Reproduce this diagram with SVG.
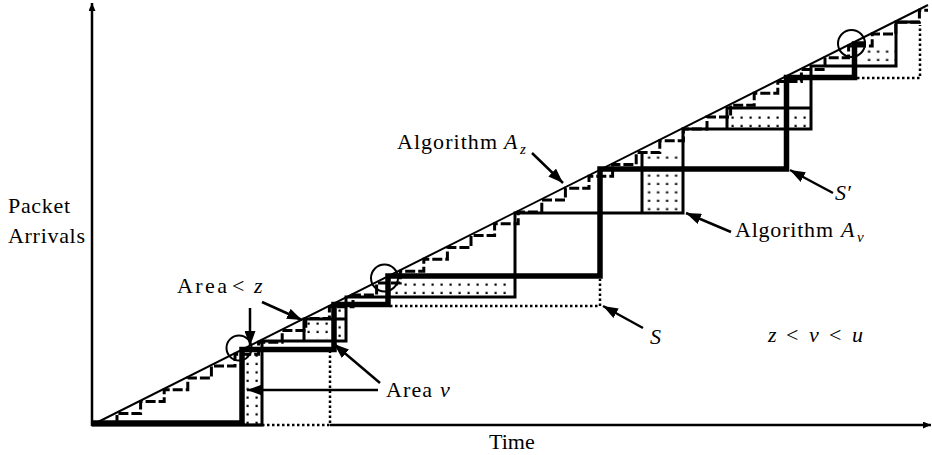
<svg xmlns="http://www.w3.org/2000/svg" width="932" height="455" viewBox="0 0 932 455">
<style>
.t{font-family:"Liberation Serif","DejaVu Serif",serif;font-size:22px;fill:#000}
.i{font-style:italic}
.sub{font-size:15px}
.ax{stroke:#000;stroke-width:2.5;fill:none}
.diag{stroke:#000;stroke-width:2;fill:none}
.az{stroke:#000;stroke-width:3;fill:none;stroke-dasharray:10 3}
.av{stroke:#000;stroke-width:3;fill:none}
.sp{stroke:#000;stroke-width:5.5;fill:none;stroke-linejoin:miter}
.dot{stroke:#000;stroke-width:2.5;fill:none;stroke-dasharray:2.5 2.5}
.cir{stroke:#000;stroke-width:2;fill:none}
.arr{stroke:#000;stroke-width:2.5;fill:none;marker-end:url(#ah)}
.dots{fill:url(#dots)}
</style>
<defs>
<marker id="ah" markerUnits="userSpaceOnUse" markerWidth="16" markerHeight="11" refX="15" refY="5.5" orient="auto"><path d="M0,0 L15,5.5 L0,11 z" fill="#000"/></marker>
<marker id="axh" markerUnits="userSpaceOnUse" markerWidth="8" markerHeight="7" refX="8" refY="3.5" orient="auto"><path d="M0,0 L8,3.5 L0,7 z" fill="#000"/></marker>
<pattern id="dots" patternUnits="userSpaceOnUse" width="9" height="8.4"><rect x="2.5" y="2.5" width="2.2" height="2.2" fill="#000"/></pattern>
</defs>

<g id="axes">
<path class="ax" d="M92,426 V3" marker-end="url(#axh)"/>
<path class="ax" d="M91,425 H262"/>
<path class="ax" d="M330,425 H931" marker-end="url(#axh)"/>
</g>

<g id="arrival-line">
<path class="diag" d="M92,425 L928,5"/>
</g>

<g id="areas">
<rect class="dots" transform="translate(244,352)" width="17" height="72"/>
<rect class="dots" transform="translate(305,320)" width="26" height="19"/>
<rect class="dots" transform="translate(336,307)" width="9" height="33"/>
<rect class="dots" transform="translate(393,281)" width="119" height="15"/>
<rect class="dots" transform="translate(645.5,172)" width="37" height="39"/>
<rect class="dots" transform="translate(645.5,154)" width="37" height="10"/>
<rect class="dots" transform="translate(729,114)" width="82" height="14"/>
<rect class="dots" transform="translate(865.5,48)" width="30" height="16"/>
</g>

<g id="algorithm-az">
<path class="az" d="M117,425 V413.4 H140.6 V401.6 H164.2 V389.7 H187.8 V377.9 H211.4 V366.0 H235.0 V354.2 H258.6 V342.3 H282.2 V330.4 H305.8 V318.6 H329.4 V306.7 H353.0 V294.9 H376.6 V283.0 H400.2 V271.2 H423.8 V259.3 H447.4 V247.4 H471.0 V235.6 H494.6 V223.7 H518.2 V211.9 H541.8 V200.0 H565.4 V188.2 H589.0 V176.3 H612.6 V164.4 H636.2 V152.6 H659.8 V140.7 H683.4 V128.9 H707.0 V117.0 H730.6 V105.2 H754.2 V93.3 H777.8 V81.5 H801.4 V69.6 H825.0 V57.7 H848.6 V45.9 H872.2 V34.0 H895.8 V22.2 H919.4 V10.3 H928"/>
</g>

<g id="algorithm-av">
<path class="av" d="M92,425 H262 V341 H346 V297 H515 V213 H683 V129 H811 V66 H896 V22 H920"/>
<path class="av" d="M304,341 V319 H346"/>
<path class="av" d="M642,213 V152"/>
<path class="av" d="M727,128 V108 H811"/>
</g>

<g id="schedule-s-prime">
<path class="sp" d="M92,423 H242 V349.5 H334 V304.5 H388 V276 H600 V169 H786.5 V77.5 H854.5 V44 H866"/>
</g>

<g id="schedule-s">
<path class="dot" d="M262,425 H330 V351"/>
<path class="dot" d="M390,306 H600 V279"/>
<path class="dot" d="M857,78 H920 V25"/>
</g>

<g id="touch-points">
<circle class="cir" cx="239" cy="348" r="12.5"/>
<circle class="cir" cx="384.5" cy="278" r="13.5"/>
<circle class="cir" cx="851.5" cy="43.5" r="13.5"/>
</g>

<g id="connectors">
<path class="arr" d="M250,308 V346"/>
<path class="arr" d="M262,302 L302,320"/>
<path class="arr" d="M378,390 H247"/>
<path class="arr" d="M380,383 L334,344"/>
<path class="arr" d="M532,153 L563,183"/>
<path class="arr" d="M731,232 L686,213"/>
<path class="arr" d="M833,193 L790,170"/>
<path class="arr" d="M643,328 L603,306"/>
</g>

<g id="labels">
<text class="t" x="8" y="213" textLength="62" lengthAdjust="spacing">Packet</text>
<text class="t" x="8" y="243" textLength="77" lengthAdjust="spacing">Arrivals</text>
<text class="t" x="489" y="449">Time</text>
<text class="t" x="177" y="293" textLength="50" lengthAdjust="spacing">Area</text>
<text class="t" x="232" y="293">&lt;</text>
<text class="t i" x="254" y="293">z</text>
<text class="t" x="386" y="397" textLength="46" lengthAdjust="spacing">Area</text>
<text class="t i" x="440" y="397">v</text>
<text class="t" x="397" y="149" textLength="100" lengthAdjust="spacing">Algorithm</text>
<text class="t i" x="504" y="149">A</text>
<text class="t i sub" x="520" y="154">z</text>
<text class="t" x="735" y="237" textLength="98" lengthAdjust="spacing">Algorithm</text>
<text class="t i" x="841" y="237">A</text>
<text class="t i sub" x="857" y="242">v</text>
<text class="t i" x="835" y="200">S′</text>
<text class="t i" x="650" y="344">S</text>
<text class="t i" x="768" y="342">z</text>
<text class="t" x="786" y="342">&lt;</text>
<text class="t i" x="809" y="342">v</text>
<text class="t" x="829" y="342">&lt;</text>
<text class="t i" x="852" y="342">u</text>
</g>
</svg>
